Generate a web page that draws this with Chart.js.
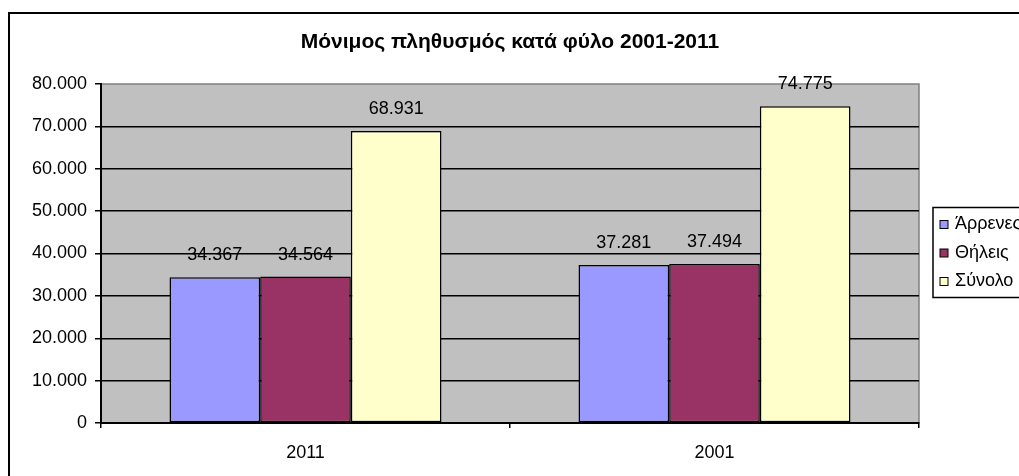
<!DOCTYPE html>
<html>
<head>
<meta charset="utf-8">
<script src="https://cdn.jsdelivr.net/npm/chart.js@4"></script>
<style>
  html, body { margin: 0; padding: 0; background: #fff; overflow: hidden; }
  #wrap { position: relative; width: 1019px; height: 476px; overflow: hidden; }
  #frame { position: absolute; left: 8px; top: 12px; width: 1200px; height: 600px;
           border-left: 2px solid #000; border-top: 2px solid #000; }
  #myChart { position: absolute; left: 0; top: 0; }
</style>
</head>
<body>
<div id="wrap">
  <div id="frame"></div>
  <canvas id="myChart" width="1019" height="476"></canvas>
</div>
<script>
const categories = ['2011', '2001'];
const males = [34367, 37281];
const females = [34564, 37494];
const totals = [68931, 74775];
const seriesNames = ['Άρρενες', 'Θήλεις', 'Σύνολο'];
const yTicks = [0, 10000, 20000, 30000, 40000, 50000, 60000, 70000, 80000];
const chartTitle = 'Μόνιμος πληθυσμός κατά φύλο 2001-2011';

// greek style thousands: 34.367
function fmt(v) {
  return String(v).replace(/\B(?=(\d{3})+(?!\d))/g, '.');
}

Chart.defaults.font.family = '"Liberation Sans", Arial, sans-serif';
Chart.defaults.font.size = 18;
Chart.defaults.color = '#000';

const plotBg = {
  id: 'plotBg',
  beforeDraw(chart) {
    const a = chart.chartArea;
    const ctx = chart.ctx;
    ctx.save();
    ctx.fillStyle = '#c0c0c0';
    ctx.fillRect(a.left, a.top, a.right - a.left, a.bottom - a.top);
    ctx.strokeStyle = '#808080';
    ctx.lineWidth = 1.5;
    ctx.strokeRect(a.left, a.top, a.right - a.left, a.bottom - a.top);
    // title, centered over the plot area
    ctx.font = 'bold 21px "Liberation Sans", Arial, sans-serif';
    ctx.fillStyle = '#000';
    ctx.textAlign = 'center';
    ctx.textBaseline = 'middle';
    ctx.fillText(chartTitle, (a.left + a.right) / 2, a.top - 42);
    ctx.restore();
  }
};

const barLabels = {
  id: 'barLabels',
  afterDatasetsDraw(chart) {
    const ctx = chart.ctx;
    ctx.save();
    ctx.font = '18px "Liberation Sans", Arial, sans-serif';
    ctx.fillStyle = '#000';
    ctx.textAlign = 'center';
    ctx.textBaseline = 'middle';
    chart.data.datasets.forEach((ds, i) => {
      chart.getDatasetMeta(i).data.forEach((bar, j) => {
        ctx.fillText(fmt(ds.data[j]), bar.x, bar.y - 22);
      });
    });
    ctx.restore();
  }
};

const boxLegend = {
  id: 'boxLegend',
  afterDraw(chart) {
    const a = chart.chartArea;
    const ctx = chart.ctx;
    const left = a.right + 14;
    const rowH = 28.5;
    const h = 90;
    const top = (a.top + a.bottom) / 2 - h / 2 - 1;
    ctx.save();
    ctx.fillStyle = '#fff';
    ctx.fillRect(left, top, 200, h);
    ctx.strokeStyle = '#000';
    ctx.lineWidth = 1.5;
    ctx.strokeRect(left, top, 200, h);
    ctx.font = '18px "Liberation Sans", Arial, sans-serif';
    ctx.textBaseline = 'middle';
    chart.data.datasets.forEach((ds, i) => {
      const cy = top + 17 + i * rowH;
      ctx.fillStyle = ds.backgroundColor;
      ctx.fillRect(left + 7, cy - 4, 8, 8);
      ctx.strokeStyle = '#000';
      ctx.lineWidth = 1;
      ctx.strokeRect(left + 7, cy - 4, 8, 8);
      ctx.fillStyle = '#000';
      ctx.fillText(ds.label, left + 22, cy);
    });
    ctx.restore();
  }
};

const ctx = document.getElementById('myChart');

new Chart(ctx, {
  type: 'bar',
  data: {
    labels: categories,
    datasets: [
      { label: seriesNames[0], data: males, backgroundColor: '#9999ff' },
      { label: seriesNames[1], data: females, backgroundColor: '#993366' },
      { label: seriesNames[2], data: totals, backgroundColor: '#ffffcc' },
    ],
  },
  options: {
    responsive: false,
    animation: false,
    layout: { padding: { left: 10, right: 100, top: 84, bottom: 12 } },
    datasets: {
      bar: {
        categoryPercentage: 0.665,
        barPercentage: 1,
        borderColor: '#000',
        borderWidth: 1.5,
        borderSkipped: false,
      }
    },
    plugins: {
      legend: { display: false },
      tooltip: { enabled: false },
      title: { display: false },
    },
    scales: {
      x: {
        grid: { offset: true, drawOnChartArea: false, drawTicks: true, tickLength: 5, tickColor: '#000', lineWidth: 1.5 },
        border: { color: '#000', width: 2 },
        ticks: { padding: 14, font: { size: 18 } },
        afterFit(scale) { scale.height = 41; },
      },
      y: {
        min: 0,
        max: 80000,
        afterBuildTicks(scale) { scale.ticks = yTicks.map(v => ({ value: v })); },
        grid: {
          color: c => (c.tick && c.tick.value === 80000) ? 'rgba(0,0,0,0)' : '#000',
          lineWidth: 1.5,
          tickLength: 6,
          tickColor: '#000',
        },
        border: { color: '#000', width: 2 },
        ticks: { padding: 8, font: { size: 18 }, callback: v => fmt(v) },
        afterFit(scale) { scale.width = 91; },
      },
    },
  },
  plugins: [plotBg, barLabels, boxLegend],
});
</script>
</body>
</html>
